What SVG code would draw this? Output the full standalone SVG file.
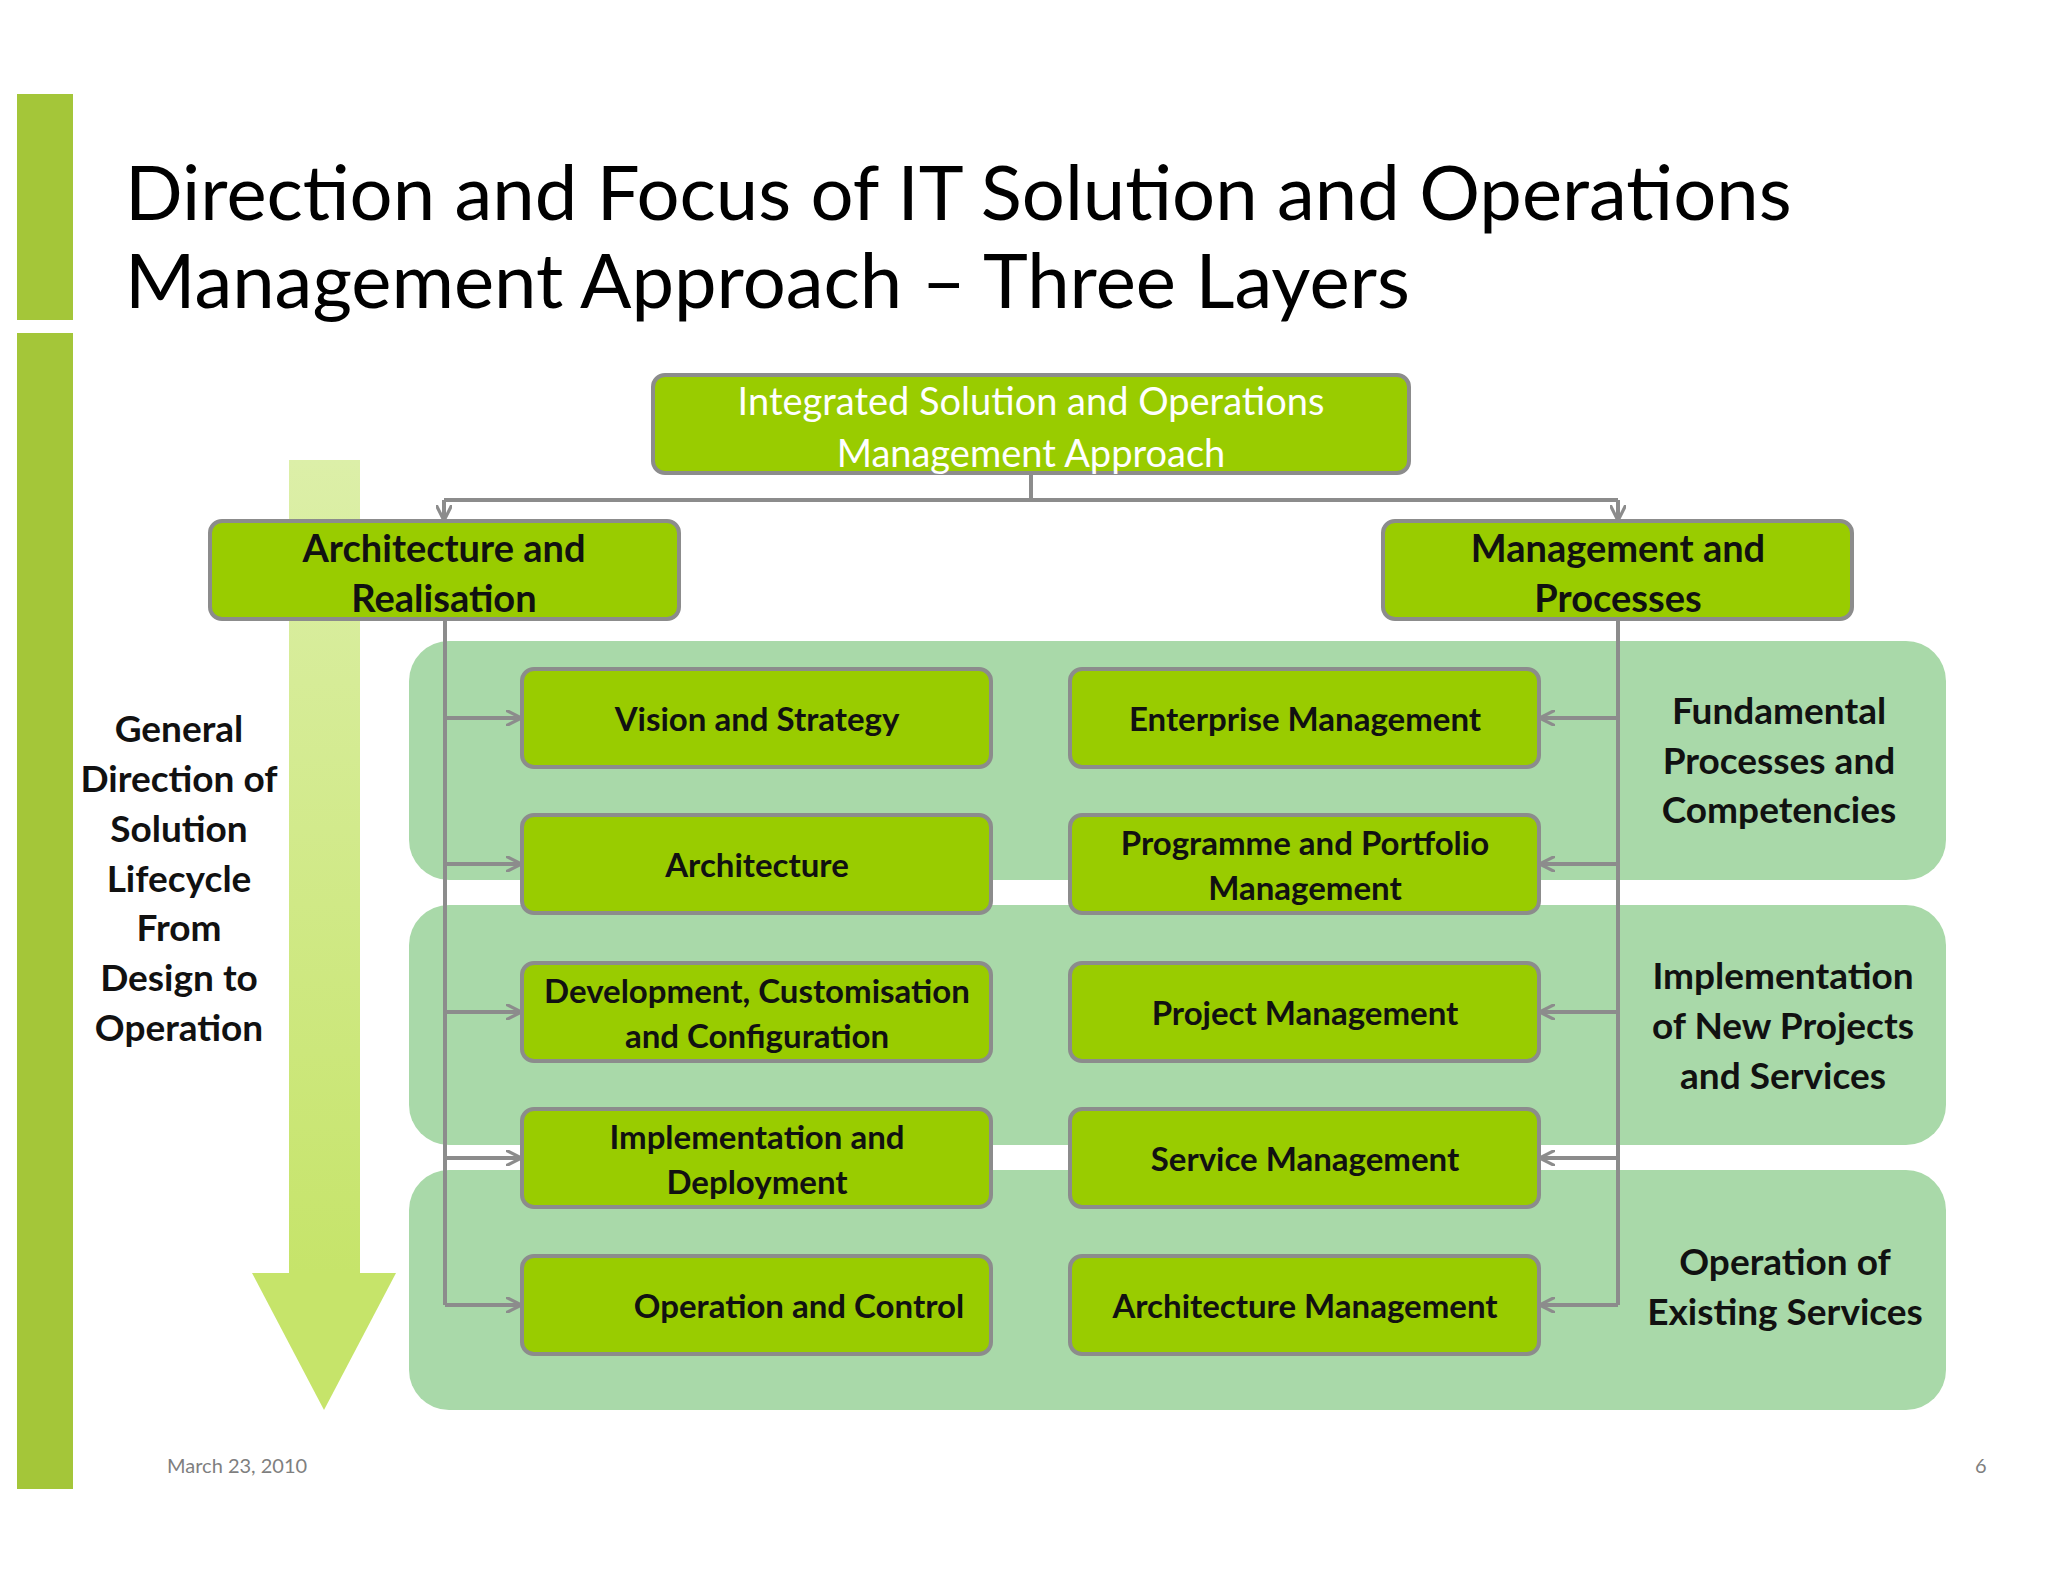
<svg xmlns="http://www.w3.org/2000/svg" width="2048" height="1582" viewBox="0 0 2048 1582">
<defs>
<style>
.t{font-family:Lato,"Open Sans","DejaVu Sans",sans-serif;text-anchor:middle;dominant-baseline:central}
.b{font-weight:bold;fill:#111}
.box{fill:#99cc00;stroke:#8c8c8c;stroke-width:4}
.band{fill:#a9d9a9}
.c{stroke:#8c8c8c;stroke-width:4;fill:none}
</style>
<marker id="ah" viewBox="0 0 10 10" refX="9" refY="5" markerWidth="4" markerHeight="4" orient="auto"><path d="M0,0 L10,5 L0,10" fill="none" stroke="#8c8c8c" stroke-width="2"/></marker>
<linearGradient id="ag" x1="0" y1="0" x2="0" y2="1"><stop offset="0" stop-color="#dcefa8"/><stop offset="1" stop-color="#c6e46a"/></linearGradient>
</defs>
<rect width="2048" height="1582" fill="#fff"/>
<rect x="17" y="94" width="56" height="226" fill="#a4c639"/>
<rect x="17" y="333" width="56" height="1156" fill="#a4c639"/>
<text x="125" y="190" font-family="Lato,'Open Sans',sans-serif" font-size="76" fill="#000" dominant-baseline="central">Direction and Focus of IT Solution and Operations</text>
<text x="125" y="278" font-family="Lato,'Open Sans',sans-serif" font-size="76" fill="#000" dominant-baseline="central">Management Approach – Three Layers</text>
<g id="bands">
<rect class="band" x="409" y="641" width="1537" height="239" rx="40"/>
<rect class="band" x="409" y="905" width="1537" height="240" rx="40"/>
<rect class="band" x="409" y="1170" width="1537" height="240" rx="40"/>
</g>
<g id="bigarrow">
<rect x="289" y="460" width="71" height="813" fill="url(#ag)"/>
<polygon points="252,1273 396,1273 324,1410" fill="#c6e46a"/>
</g>
<g id="connectors">
<path class="c" d="M1031,473 V500 M444,500 H1618" />
<path class="c" d="M444,500 V519" marker-end="url(#ah)"/>
<path class="c" d="M1618,500 V519" marker-end="url(#ah)"/>
<path class="c" d="M445,619 V1305 M1618,619 V1305"/>
<path class="c" d="M445,718 H520" marker-end="url(#ah)"/>
<path class="c" d="M445,864 H520" marker-end="url(#ah)"/>
<path class="c" d="M445,1012 H520" marker-end="url(#ah)"/>
<path class="c" d="M445,1158 H520" marker-end="url(#ah)"/>
<path class="c" d="M445,1305 H520" marker-end="url(#ah)"/>
<path class="c" d="M1618,718 H1541" marker-end="url(#ah)"/>
<path class="c" d="M1618,864 H1541" marker-end="url(#ah)"/>
<path class="c" d="M1618,1012 H1541" marker-end="url(#ah)"/>
<path class="c" d="M1618,1158 H1541" marker-end="url(#ah)"/>
<path class="c" d="M1618,1305 H1541" marker-end="url(#ah)"/>
</g>
<g id="top"><rect class="box" x="653" y="375" width="756" height="98" rx="12"/>
<text class="t" x="1031" y="400" font-size="38" fill="#fff">Integrated Solution and Operations</text>
<text class="t" x="1031" y="452" font-size="38" fill="#fff">Management Approach</text></g>
<g id="ar"><rect class="box" x="210" y="521" width="469" height="98" rx="12"/>
<text class="t b" x="444" y="547" font-size="38">Architecture and</text>
<text class="t b" x="444" y="597" font-size="38">Realisation</text></g>
<g id="mp"><rect class="box" x="1383" y="521" width="469" height="98" rx="12"/>
<text class="t b" x="1618" y="547" font-size="38">Management and</text>
<text class="t b" x="1618" y="597" font-size="38">Processes</text></g>
<g id="l1"><rect class="box" x="522" y="669" width="469" height="98" rx="12"/><text class="t b" x="757" y="718" font-size="33">Vision and Strategy</text></g>
<g id="l2"><rect class="box" x="522" y="815" width="469" height="98" rx="12"/><text class="t b" x="757" y="864" font-size="33">Architecture</text></g>
<g id="l3"><rect class="box" x="522" y="963" width="469" height="98" rx="12"/><text class="t b" x="757" y="990" font-size="33">Development, Customisation</text><text class="t b" x="757" y="1035" font-size="33">and Configuration</text></g>
<g id="l4"><rect class="box" x="522" y="1109" width="469" height="98" rx="12"/><text class="t b" x="757" y="1136" font-size="33">Implementation and</text><text class="t b" x="757" y="1181" font-size="33">Deployment</text></g>
<g id="l5"><rect class="box" x="522" y="1256" width="469" height="98" rx="12"/><text class="t b" x="799" y="1305" font-size="33">Operation and Control</text></g>
<g id="r1"><rect class="box" x="1070" y="669" width="469" height="98" rx="12"/><text class="t b" x="1305" y="718" font-size="33">Enterprise Management</text></g>
<g id="r2"><rect class="box" x="1070" y="815" width="469" height="98" rx="12"/><text class="t b" x="1305" y="842" font-size="33">Programme and Portfolio</text><text class="t b" x="1305" y="887" font-size="33">Management</text></g>
<g id="r3"><rect class="box" x="1070" y="963" width="469" height="98" rx="12"/><text class="t b" x="1305" y="1012" font-size="33">Project Management</text></g>
<g id="r4"><rect class="box" x="1070" y="1109" width="469" height="98" rx="12"/><text class="t b" x="1305" y="1158" font-size="33">Service Management</text></g>
<g id="r5"><rect class="box" x="1070" y="1256" width="469" height="98" rx="12"/><text class="t b" x="1305" y="1305" font-size="33">Architecture Management</text></g>
<g id="leftlabel" class="t b" font-size="37">
<text class="t b" x="179" y="727">General</text><text class="t b" x="179" y="777">Direction of</text><text class="t b" x="179" y="827">Solution</text><text class="t b" x="179" y="877">Lifecycle</text><text class="t b" x="179" y="926">From</text><text class="t b" x="179" y="976">Design to</text><text class="t b" x="179" y="1026">Operation</text>
</g>
<g font-size="37">
<text class="t b" x="1779" y="709">Fundamental</text><text class="t b" x="1779" y="759">Processes and</text><text class="t b" x="1779" y="808">Competencies</text>
<text class="t b" x="1783" y="974">Implementation</text><text class="t b" x="1783" y="1024">of New Projects</text><text class="t b" x="1783" y="1074">and Services</text>
<text class="t b" x="1785" y="1260">Operation of</text><text class="t b" x="1785" y="1310">Existing Services</text>
</g>
<text x="167" y="1465" font-family="Lato,sans-serif" font-size="20" fill="#7f7f7f" dominant-baseline="central">March 23, 2010</text>
<text x="1975" y="1465" font-family="Lato,sans-serif" font-size="20" fill="#7f7f7f" dominant-baseline="central">6</text>
</svg>
